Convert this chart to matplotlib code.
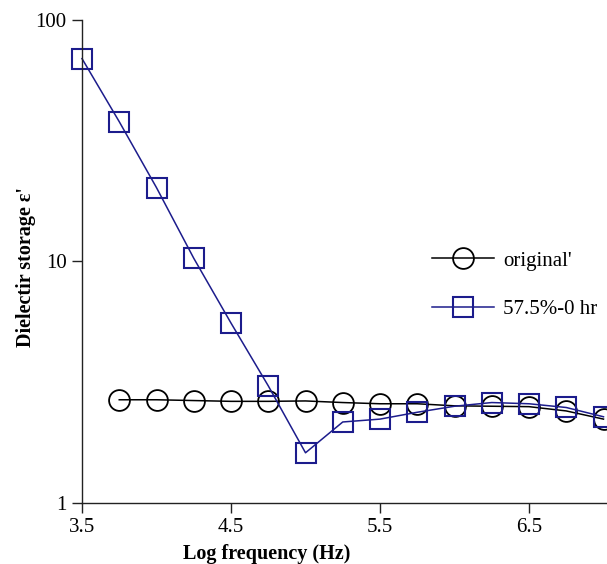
# -*- coding: utf-8 -*-
""" Dielectric storage against log frequency, two samples. """
import matplotlib
matplotlib.use("Agg")
from matplotlib import pyplot as plt

# Data
log_freq = [3.5, 3.75, 4.0, 4.25, 4.5, 4.75, 5.0, 5.25, 5.5, 5.75,
            6.0, 6.25, 6.5, 6.75, 7.0]
original = [2.67, 2.67, 2.65, 2.63, 2.63, 2.64, 2.60, 2.57, 2.57,
            2.52, 2.51, 2.50, 2.40, 2.22]
sample_575 = [69.2, 37.9, 20.2, 10.3, 5.55, 3.05, 1.61, 2.16, 2.22,
              2.37, 2.51, 2.60, 2.57, 2.48, 2.27]
x_ticks = [3.5, 4.5, 5.5, 6.5]
y_ticks = [1, 10, 100]

plt.rcParams['font.family'] = ['Liberation Serif', 'DejaVu Serif']

fig = plt.figure(figsize=(6.07, 5.64), dpi=100)
ax = fig.add_axes([82 / 607, 1 - 502.7 / 564, 1 - 82 / 607,
                   (502.7 - 20) / 564])

navy = '#1c1c8c'
ax.plot(log_freq[1:], original, color='black', lw=1.1, marker='o',
        ms=15, mfc='none', mec='black', mew=1.3, clip_on=False,
        label="original'")
ax.plot(log_freq, sample_575, color=navy, lw=1.1, marker='s',
        ms=14.5, mfc='none', mec=navy, mew=1.5, clip_on=False,
        label='57.5%-0 hr')

ax.set_yscale('log')
ax.set_ylim(1, 100)
ax.set_xlim(3.5, 3.5 + 525 / 149)
ax.set_xticks(x_ticks)
ax.set_xticklabels([str(t) for t in x_ticks])
ax.set_yticks(y_ticks)
ax.set_yticklabels([str(t) for t in y_ticks])
ax.yaxis.set_minor_locator(matplotlib.ticker.NullLocator())

for side in ['top', 'right']:
    ax.spines[side].set_visible(False)
for side in ['left', 'bottom']:
    ax.spines[side].set_linewidth(1.0)
    ax.spines[side].set_color('#222222')
ax.tick_params(direction='out', length=7, width=1.0, pad=4,
               labelsize=15, color='#222222')

ax.set_xlabel('Log frequency (Hz)', fontsize=14.5, fontweight='bold')
ax.set_ylabel("Dielectir storage ε'", fontsize=14.5, fontweight='bold')
ax.xaxis.set_label_coords(0.352, -0.085)
ax.yaxis.set_label_coords(-0.088, 0.488)

ax.legend(loc='center left', bbox_to_anchor=(0.667, 0.451), frameon=False,
          fontsize=15, handlelength=2.95, handletextpad=0.45,
          labelspacing=1.38, borderpad=0, borderaxespad=0)

fig.savefig('out.png', dpi=100)
